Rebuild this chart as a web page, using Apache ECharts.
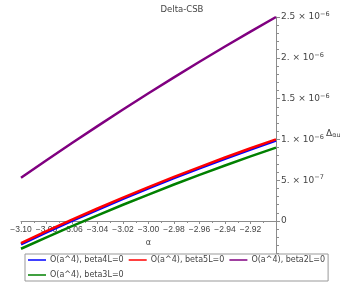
<!DOCTYPE html>
<html lang="en">
<head>
	<meta charset="UTF-8">
	<title>Delta-CSB</title>
	<script type="text/javascript" src="https://cdn.jsdelivr.net/npm/echarts@6/dist/echarts.min.js"></script>
	<style>
		html, body { margin: 0; padding: 0; background: #fff; }
	</style>
</head>
<body>
	<div id="main" style="width: 340px;height: 283px;"></div>
	<script type="text/javascript">
		// alpha values and Delta values (in units of 1e-6)
		var alpha = [-3.10, -3.08, -3.06, -3.04, -3.02, -3.00, -2.98, -2.96, -2.94, -2.92, -2.90];
		var beta4L = [-0.285, -0.14, 0.001, 0.138, 0.271, 0.40, 0.525, 0.646, 0.763, 0.876, 0.985];
		var beta5L = [-0.27, -0.125, 0.016, 0.153, 0.286, 0.415, 0.540, 0.661, 0.778, 0.891, 1.0];
		var beta2L = [0.53, 0.745, 0.956, 1.163, 1.366, 1.565, 1.760, 1.951, 2.138, 2.321, 2.50];
		var beta3L = [-0.34, -0.20, -0.064, 0.069, 0.199, 0.324, 0.447, 0.565, 0.680, 0.792, 0.90];

		var seriesNames = ['O(a^4), beta4L=0', 'O(a^4), beta5L=0', 'O(a^4), beta2L=0', 'O(a^4), beta3L=0'];
		var xTickLabels = ['−3.10', '−3.08', '−3.06', '−3.04', '−3.02', '−3.00', '−2.98', '−2.96', '−2.94', '−2.92'];
		var yTickValues = [0, 0.5, 1, 1.5, 2, 2.5];
		var yTickLabels = ['0', '5. × 10{sup|−7}', '1. × 10{sup|−6}', '1.5 × 10{sup|−6}', '2. × 10{sup|−6}', '2.5 × 10{sup|−6}'];

		function pairs(ys) {
			return alpha.map(function (a, i) { return [a, ys[i]]; });
		}

		var font = 'DejaVu Sans';
		var axisGray = '#8c8c8c';
		var txt = '#444';
		// pixels from the grid bottom (y = -0.5) up to y = 0
		var zeroLift = 40.8;

		var myChart = echarts.init(document.getElementById('main'));
		var option = {
			animation: false,
			title: {
				text: 'Delta-CSB',
				left: 177,
				textAlign: 'center',
				top: 0,
				textStyle: { fontFamily: font, fontSize: 8.5, fontWeight: 'normal', color: txt }
			},
			grid: { left: 21, right: 64, top: 17, bottom: 21.2, outerBoundsMode: 'none' },
			legend: {
				data: seriesNames,
				left: 25,
				top: 254,
				width: 320,
				padding: [1, 3, 1, 3],
				itemGap: 5,
				itemWidth: 18,
				itemHeight: 1.5,
				icon: 'rect',
				borderColor: '#999',
				borderWidth: 1,
				backgroundColor: '#fff',
				textStyle: { fontFamily: font, fontSize: 8, color: txt, lineHeight: 10, padding: [0, 0, 0, -1] }
			},
			xAxis: {
				type: 'value',
				position: 'bottom',
				offset: -zeroLift,
				min: -3.10,
				max: -2.90,
				interval: 0.02,
				name: 'α',
				nameLocation: 'middle',
				nameGap: 18,
				nameTextStyle: { fontFamily: font, fontSize: 8, color: txt },
				axisLine: { onZero: false, lineStyle: { color: axisGray } },
				axisTick: { length: 3, lineStyle: { color: axisGray } },
				minorTick: { show: true, splitNumber: 2, length: 2, lineStyle: { color: axisGray } },
				splitLine: { show: false },
				axisLabel: {
					fontFamily: 'Liberation Sans', fontSize: 8.5, color: txt, margin: 4,
					hideOverlap: false,
					formatter: function (v) {
						var i = Math.round((v + 3.10) / 0.02);
						if (Math.abs(v - (-3.10 + i * 0.02)) > 1e-6) return '';
						return xTickLabels[i] || '';
					}
				}
			},
			yAxis: {
				type: 'value',
				position: 'right',
				min: -0.5,
				max: 2.5,
				interval: 0.5,
				name: 'Δ{sub|αu}',
				nameLocation: 'middle',
				nameRotate: 0,
				nameGap: 50,
				nameMoveOverlap: false,
				nameTextStyle: {
					fontFamily: font, fontSize: 9, color: txt, align: 'left', padding: [0, 0, 12, 0],
					rich: { sub: { fontFamily: font, fontSize: 6.5, color: txt, verticalAlign: 'bottom', padding: [4, 0, 0, 0] } }
				},
				axisLine: { lineStyle: { color: axisGray } },
				axisTick: { length: 4, lineStyle: { color: axisGray } },
				minorTick: { show: true, splitNumber: 5, length: 3, lineStyle: { color: axisGray } },
				splitLine: { show: false },
				axisLabel: {
					fontFamily: font, fontSize: 9, color: txt, margin: 5,
					formatter: function (v) {
						for (var i = 0; i < yTickValues.length; i++) {
							if (Math.abs(v - yTickValues[i]) < 1e-6) return yTickLabels[i];
						}
						return '';
					},
					rich: {
						sup: { fontFamily: font, fontSize: 6.5, color: txt, verticalAlign: 'top', padding: [0, 0, 5, 0] }
					}
				}
			},
			series: [
				{ name: seriesNames[0], type: 'line', data: pairs(beta4L), showSymbol: false, color: '#0000ff', lineStyle: { width: 2.5 }, z: 2 },
				{ name: seriesNames[1], type: 'line', data: pairs(beta5L), showSymbol: false, color: '#ff0000', lineStyle: { width: 2.5 }, z: 3 },
				{ name: seriesNames[2], type: 'line', data: pairs(beta2L), showSymbol: false, color: '#800080', lineStyle: { width: 2.5 }, z: 3 },
				{ name: seriesNames[3], type: 'line', data: pairs(beta3L), showSymbol: false, color: '#008000', lineStyle: { width: 2.5 }, z: 3 }
			]
		};
		myChart.setOption(option);
	</script>
</body>
</html>
